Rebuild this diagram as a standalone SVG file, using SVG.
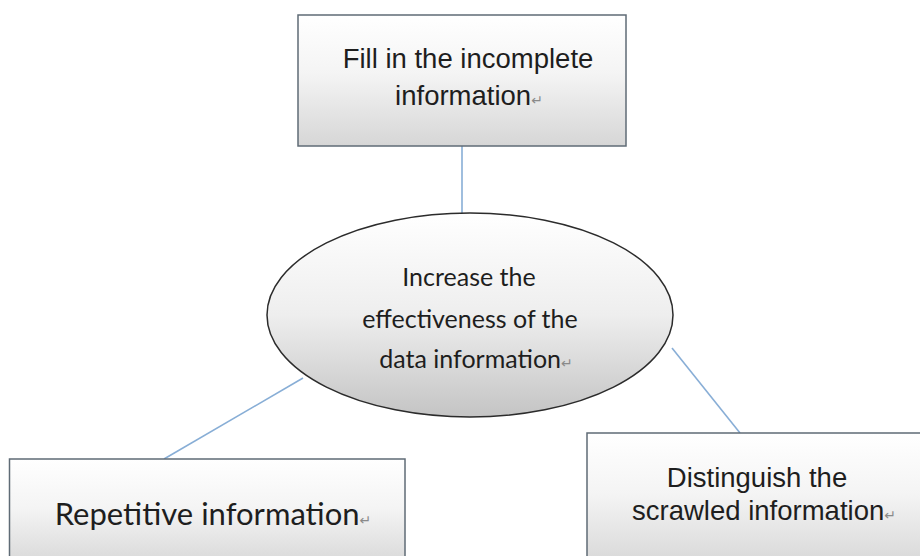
<svg xmlns="http://www.w3.org/2000/svg" width="920" height="556" viewBox="0 0 920 556">
<style>
.box{stroke:#5f6b76;stroke-width:1.5;fill:url(#gBox)}
.ell{stroke:#2b2b2b;stroke-width:1.5;fill:url(#gEll)}
.conn{stroke:#88aed6;stroke-width:1.6;fill:none}
.ta{font-family:"Liberation Sans",Arial,sans-serif;font-size:27.5px;fill:#1e1e1e;text-anchor:middle}
.tc{font-family:Lato,"Open Sans",sans-serif;font-size:25px;fill:#1e1e1e;text-anchor:middle}
.rt{font-family:"DejaVu Sans",sans-serif;font-size:14px;fill:#8a8a8a}
</style>
<defs>
<linearGradient id="gBox" x1="0" y1="0" x2="0" y2="1">
<stop offset="0" stop-color="#ffffff"/>
<stop offset="0.45" stop-color="#f4f4f4"/>
<stop offset="1" stop-color="#d6d6d6"/>
</linearGradient>
<linearGradient id="gEll" x1="0" y1="0" x2="0" y2="1">
<stop offset="0" stop-color="#ffffff"/>
<stop offset="0.5" stop-color="#eeeeee"/>
<stop offset="1" stop-color="#c4c4c4"/>
</linearGradient>
</defs>
<rect width="920" height="556" fill="#ffffff"/>
<g id="connectors">
<line class="conn" x1="462" y1="146" x2="462" y2="213"/>
<line class="conn" x1="303" y1="378" x2="164" y2="459"/>
<line class="conn" x1="672" y1="348" x2="740" y2="433"/>
</g>
<g id="node-fill">
<rect class="box" x="298" y="15" width="328" height="131"/>
<text class="ta" x="468" y="68">Fill in the incomplete</text>
<text class="ta" x="469" y="105">information<tspan class="rt">↵</tspan></text>
</g>
<g id="node-center">
<ellipse class="ell" cx="470" cy="315" rx="203" ry="102"/>
<text class="tc" x="469" y="286">Increase the</text>
<text class="tc" x="470" y="328">effectiveness of the</text>
<text class="tc" x="476" y="368">data information<tspan class="rt">↵</tspan></text>
</g>
<g id="node-repetitive">
<rect class="box" x="9.5" y="459" width="395.5" height="110"/>
<text class="tc" x="213" y="525" style="font-size:31px">Repetitive information<tspan class="rt">↵</tspan></text>
</g>
<g id="node-scrawled">
<rect class="box" x="587" y="433" width="345" height="136"/>
<text class="ta" x="757" y="487">Distinguish the</text>
<text class="ta" x="764" y="520">scrawled information<tspan class="rt">↵</tspan></text>
</g>
</svg>
